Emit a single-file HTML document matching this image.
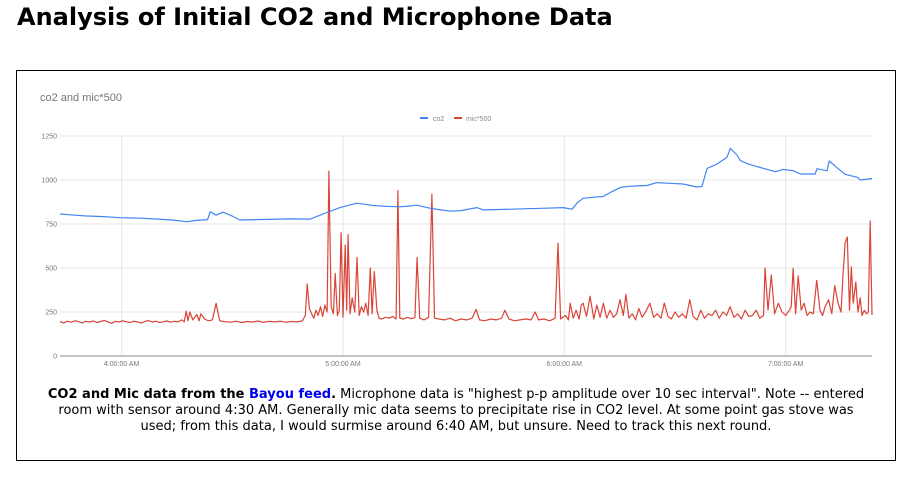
<!DOCTYPE html>
<html><head><meta charset="utf-8"><style>
body{margin:0;background:#fff;width:913px;height:480px;overflow:hidden;position:relative;font-family:"DejaVu Sans",sans-serif}
h1{position:absolute;left:17px;top:3px;margin:0;font:bold 24px "DejaVu Sans",sans-serif;color:#000;white-space:nowrap}
#box{position:absolute;left:16px;top:70px;width:878px;height:389px;border:1px solid #000}
#cap{position:absolute;left:16px;top:387px;width:880px;text-align:center;font-size:13px;line-height:16px;color:#000;white-space:nowrap}
#cap a{color:#00e;font-weight:bold;text-decoration:none}
svg{position:absolute;left:0;top:0}
</style></head><body>
<h1>Analysis of Initial CO2 and Microphone Data</h1>
<div id="box"></div>
<svg id="chart" width="913" height="480"></svg>
<div id="cap"><b>CO2 and Mic data from the <a href="#">Bayou feed</a>.</b> Microphone data is "highest p-p amplitude over 10 sec interval". Note -- entered<br>room with sensor around 4:30 AM. Generally mic data seems to precipitate rise in CO2 level. At some point gas stove was<br>used; from this data, I would surmise around 6:40 AM, but unsure. Need to track this next round.</div>
<script>
const yTicks=[0,250,500,750,1000,1250];
const xTicks=[240,300,360,420];
const xTickLabels=["4:00:00 AM","5:00:00 AM","6:00:00 AM","7:00:00 AM"];
const co2T=[223.3,226,230,235,239.6,245,250,254,257.7,260,263.3,264.0,265.6,267.5,270,272.1,276,280,285,291.1,293.8,296,299.2,301.5,303.8,306,308.2,312,315.5,318,320.0,323.6,326,329.1,332,336.3,338.0,344,350,355,359.7,362.1,363.5,365.1,368,370.5,373,375.2,378,382.4,385.1,388,392.2,395.9,397.3,398.7,401.4,404.1,405.0,406.8,407.7,410,412.2,415,417.2,419.3,422.1,424.0,428.0,428.5,431.2,431.8,433.9,436.2,438.3,439.5,440.2,443.4];
const co2V=[807,802,796,792,786,783,778,772,763,770,775,820,800,817,795,773,775,776,779,778,800,818,843,856,868,862,855,850,848,852,857,840,832,823,826,843,830,833,837,840,843,834,870,896,902,906,935,958,965,969,985,982,977,960,963,1066,1091,1129,1180,1142,1110,1090,1076,1060,1047,1060,1052,1034,1034,1064,1052,1108,1070,1032,1021,1015,1000,1008];
const mic=[[223.3,195],[224.3,188],[225.3,198],[226.3,192],[227.3,200],[228.3,196],[229.3,188],[230.3,197],[231.3,193],[232.3,199],[233.3,191],[234.3,196],[235.3,202],[236.3,194],[237.3,186],[238.3,197],[239.3,193],[240.3,200],[241.3,195],[242.3,190],[243.3,198],[244.3,194],[245.3,187],[246.3,196],[247.3,201],[248.3,193],[249.3,198],[250.3,190],[251.3,195],[252.3,199],[253.3,192],[254.3,197],[255.3,194],[256.3,205],[257.0,195],[257.5,255],[258,200],[258.5,250],[259.3,205],[260.4,235],[261,200],[261.5,240],[262.5,210],[263.5,200],[264.6,205],[265.6,300],[266.6,200],[268,195],[269.5,192],[271,198],[272.5,190],[274,196],[275.5,193],[277,199],[278.5,191],[280,197],[281.5,194],[283,198],[284.5,192],[286,196],[287.5,194],[289,200],[289.8,230],[290.3,410],[290.9,270],[291.5,240],[292.1,215],[292.7,260],[293.3,230],[293.9,280],[294.5,225],[295.1,290],[295.7,250],[296.2,1050],[296.8,280],[297.4,240],[297.9,470],[298.5,230],[299.0,260],[299.5,700],[300.0,220],[300.6,630],[301.0,260],[301.4,690],[301.9,240],[302.5,330],[303.2,250],[303.8,560],[304.4,230],[305,280],[305.6,250],[306.2,300],[306.8,230],[307.4,500],[307.9,240],[308.5,480],[309.2,260],[309.8,215],[310.5,210],[311.5,220],[312.5,215],[313.5,225],[314.4,210],[314.9,940],[315.4,215],[316.5,210],[317.5,220],[318.5,212],[319.5,218],[320.1,560],[320.8,215],[322,205],[323.2,220],[324.1,920],[324.8,215],[326,210],[327.5,205],[329,215],[330.5,200],[332,210],[333.5,205],[335,215],[336.1,265],[337,205],[338.5,200],[340,210],[341.5,205],[343,215],[343.9,260],[345,210],[346.5,200],[348,205],[349.5,210],[351,205],[352.1,250],[353,205],[354.5,210],[356,200],[357.5,215],[358.3,640],[359,210],[360.3,230],[361.1,205],[361.6,300],[362.4,215],[363.2,260],[364,210],[364.6,290],[365.1,300],[366,225],[367,340],[368,210],[368.8,290],[369.7,220],[370.6,300],[371.5,215],[372.4,260],[373.3,220],[374.2,240],[375.1,320],[376,230],[376.7,350],[377.5,215],[378.4,240],[379.3,205],[380.2,270],[381.1,220],[382,250],[383.2,300],[384.2,220],[385.2,240],[386.2,215],[387.1,300],[388.1,225],[389,210],[390,250],[391,220],[392,240],[393,215],[394,320],[394.9,225],[396,205],[397,260],[398,215],[399,240],[400,230],[401,260],[402,215],[403,250],[404,230],[404.9,280],[406,220],[407,240],[408,210],[409,260],[410,225],[411,230],[412,260],[413,215],[414,230],[414.4,500],[415.2,260],[416.1,460],[417,240],[418,300],[419,250],[420,230],[421,260],[421.5,280],[422,498],[422.7,240],[423.4,455],[424.2,260],[425,300],[425.8,230],[426.6,250],[427.5,240],[428.4,430],[429.3,260],[430,230],[430.7,280],[431.6,320],[432.5,240],[433.3,400],[434.2,300],[435,250],[435.5,450],[436.1,642],[436.7,676],[437.3,260],[437.8,506],[438.3,300],[439,420],[439.6,250],[440.2,330],[440.7,230],[441.3,260],[441.9,240],[442.4,250],[442.9,767],[443.4,233]];
const svg=document.getElementById('chart');
const NS='http://www.w3.org/2000/svg';
const L=60,R=872,T=136,B=356;
const t0=223.3,t1=443.4,vmax=1250;
function xS(t){return L+(t-t0)/(t1-t0)*(R-L);}
function yS(v){return B-v/vmax*(B-T);}
function mk(tag,attrs){const e=document.createElementNS(NS,tag);for(const k in attrs)e.setAttribute(k,attrs[k]);svg.appendChild(e);return e;}
let e=mk('text',{x:40,y:101,'font-family':'Liberation Sans, sans-serif','font-size':11,fill:'#757575'});e.textContent='co2 and mic*500';


yTicks.forEach(v=>{
 const g=mk('line',{x1:L,x2:R,y1:yS(v),y2:yS(v),stroke:v===0?'#333':'#e6e6e6','stroke-width':1});
 
 
 const tx=mk('text',{x:L-3,y:yS(v)+2.5,'text-anchor':'end','font-family':'Liberation Sans, sans-serif','font-size':7,fill:'#777'});tx.textContent=v;
 
 
});
xTicks.forEach((t,i)=>{
 const g=mk('line',{x1:xS(t),x2:xS(t),y1:T,y2:B,stroke:'#e6e6e6','stroke-width':1});
 
 
 const tx=mk('text',{x:xS(t),y:366,'text-anchor':'middle','font-family':'Liberation Sans, sans-serif','font-size':7,fill:'#777'});tx.textContent=xTickLabels[i];
 
 
});
const ax=mk('line',{x1:L,x2:R,y1:B,y2:B,stroke:'#888','stroke-width':1});


function series(pts,color,name){
 const p=mk('polyline',{points:pts.map(d=>xS(d[0]).toFixed(1)+','+yS(d[1]).toFixed(1)).join(' '),fill:'none',stroke:color,'stroke-width':1.2,'stroke-linejoin':'round'});
 
 
}
series(mic,'#db4437','mic-line');
series(co2T.map((t,i)=>[t,co2V[i]]),'#4285f4','co2-line');
const l1=mk('rect',{x:420,y:117,width:8,height:2,fill:'#4285f4'});


const lt1=mk('text',{x:433,y:121,'font-family':'Liberation Sans, sans-serif','font-size':7,fill:'#888'});lt1.textContent='co2';


const l2=mk('rect',{x:454,y:117,width:8,height:2,fill:'#db4437'});


const lt2=mk('text',{x:466,y:121,'font-family':'Liberation Sans, sans-serif','font-size':7,fill:'#888'});lt2.textContent='mic*500';


</script>
</body></html>
